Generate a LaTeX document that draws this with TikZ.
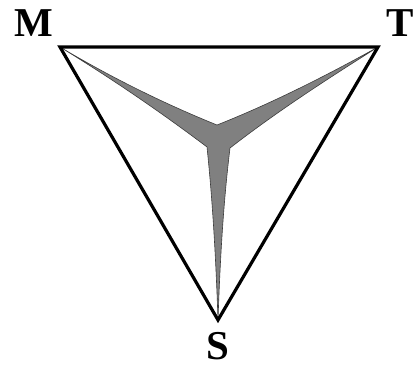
\documentclass[tikz,border=0pt]{standalone}
\usepackage{fontspec}
\setmainfont{Liberation Serif}
\definecolor{vanegray}{RGB}{128,128,128}
\definecolor{vaneedge}{RGB}{60,60,60}
\begin{document}
\begin{tikzpicture}[x=1pt,y=-1pt,
  lbl/.style={font=\fontsize{41}{41}\selectfont\bfseries, inner sep=0pt, anchor=base},
  frame/.style={line width=3.2pt, line join=miter, miter limit=10},
  vane/.style={fill=vanegray, draw=vaneedge, line width=0.6pt, line join=round}]
\useasboundingbox (0,0) rectangle (414,369);
\coordinate (M) at (60,47);
\coordinate (T) at (378,47);
\coordinate (S) at (218,320);
\coordinate (N) at (217,125);
\coordinate (L) at (207,147);
\coordinate (R) at (230,148);
\path[vane] (M) .. controls (112,78) and (165,104) .. (N)
  .. controls (270,104) and (324,77) .. (T)
  .. controls (329,78) and (279,110) .. (R)
  .. controls (223,205) and (220,263) .. (S)
  .. controls (216,262) and (213,205) .. (L)
  .. controls (158,110) and (109,77) .. (M) -- cycle;
\draw[frame] (M) -- (T) -- (S) -- cycle;
\node[lbl] (lm) at (34,37) {M};
\node[lbl] (lt) at (400,37) {T};
\node[lbl] (ls) at (218,359) {S};
\end{tikzpicture}
\end{document}
